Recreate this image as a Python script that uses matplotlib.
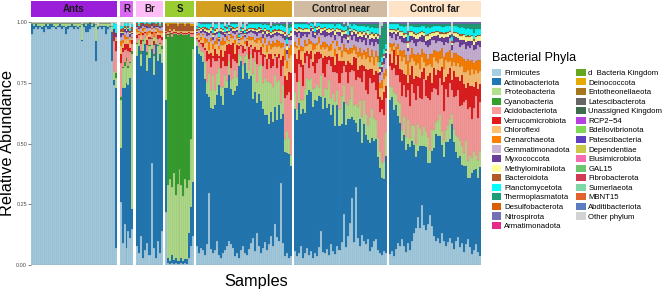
import matplotlib
matplotlib.use("Agg")
import matplotlib.pyplot as plt
from matplotlib.patches import Patch
import numpy as np

plt.rcParams['font.family'] = ['Liberation Sans', 'DejaVu Sans']

phyla = ["Firmicutes", "Actinobacteriota", "Proteobacteria", "Cyanobacteria",
         "Acidobacteriota", "Verrucomicrobiota", "Chloroflexi", "Crenarchaeota",
         "Gemmatimonadota", "Myxococcota", "Methylomirabilota", "Bacteroidota",
         "Planctomycetota", "Thermoplasmatota", "Desulfobacterota", "Nitrospirota",
         "Armatimonadota", "d  Bacteria Kingdom", "Deinococcota", "Entotheonellaeota",
         "Latescibacterota", "Unassigned Kingdom", "RCP2\u221254", "Bdellovibrionota",
         "Patescibacteria", "Dependentiae", "Elusimicrobiota", "GAL15",
         "Fibrobacterota", "Sumerlaeota", "MBNT15", "Abditibacteriota", "Other phylum"]

phyla_colors = ["#A6CEE3", "#1F78B4", "#B2DF8A", "#33A02C", "#FB9A99", "#E31A1C",
                "#FDBF6F", "#FF7F00", "#CAB2D6", "#6A3D9A", "#FFFF99", "#B15928",
                "#00FFFF", "#1B9E77", "#D95F02", "#7570B3", "#E7298A", "#66A61E",
                "#E6AB02", "#A6761D", "#666666", "#3F6B4F", "#B542E0", "#7ED957",
                "#5D3FBF", "#C9C947", "#F76BB0", "#6CC76C", "#D03A52", "#7FD6A6",
                "#E0622E", "#5A7DC2", "#D3D3D3"]

groups = ["Ants", "R", "Br", "S", "Nest soil", "Control near", "Control far"]
strip_colors = ["#9B1ED8", "#DB68F2", "#FFBDF8", "#9ACD32", "#D4A020", "#D1BBA3", "#FFE3C6"]

# ---------------- values (percent of reads per sample) ----------------
ants = {
    "Firmicutes": [95, 97, 98, 97, 98, 97, 96, 98, 97, 97, 98, 98, 97, 98, 98, 97, 98, 95, 97, 98,
                   98, 97, 98, 97, 98, 92, 98, 96, 96, 97, 98, 98, 84, 97, 98, 97, 98, 95, 97, 98,
                   84, 74, 7],
    "Actinobacteriota": [4, 1.5, 1, 1.5, 0.5, 1, 2.5, 1, 1.5, 2, 1, 0.5, 1, 0.5, 1, 1.5, 0.5, 3, 1.5, 0.5,
                         1, 1.5, 0.5, 1, 0.5, 0.5, 1, 2.5, 3, 2.5, 0.5, 1, 8, 1, 0.5, 1.5, 0.5, 3.5, 1, 0.5,
                         12, 2, 66],
    "Proteobacteria": [0.5, 1, 0.5, 1, 1, 1.5, 1, 0.5, 1, 0.5, 0.5, 1, 1.5, 1, 0.5, 1, 1, 1.5, 1, 1,
                       0.5, 1, 1, 1.5, 1, 6.5, 0.5, 1, 0.5, 0.5, 1, 0.5, 7, 0.5, 1, 1, 1, 1, 1.5, 1,
                       2.5, 4, 4],
    "Cyanobacteria": [0] * 42 + [2],
    "Acidobacteriota": [0] * 41 + [12, 9],
    "Verrucomicrobiota": [0] * 41 + [4, 4],
    "Chloroflexi": [0] * 42 + [1],
    "Gemmatimonadota": [0] * 42 + [1],
    "Myxococcota": [0] * 41 + [1, 1.5],
    "Planctomycetota": [0] * 41 + [2.5, 3.5],
}

r_grp = {
    "Firmicutes": [26, 9, 17, 7, 14, 11, 15],
    "Actinobacteriota": [22, 64, 56, 68, 60, 66, 8],
    "Proteobacteria": [20, 8, 9, 9, 7, 6, 64],
    "Cyanobacteria": [1, 0.5, 1.5, 1, 1, 0.5, 1],
    "Acidobacteriota": [14, 6, 5, 4, 6, 4, 3],
    "Verrucomicrobiota": [4, 2, 2.5, 2, 3, 2, 1.5],
    "Chloroflexi": [3, 2, 2, 2, 2, 2, 1],
    "Crenarchaeota": [2, 1, 1.5, 1, 1, 1, 0.5],
    "Gemmatimonadota": [2, 2, 1.5, 1.5, 2, 1.5, 1],
    "Myxococcota": [1.5, 1, 1, 1, 1, 1, 0.5],
    "Methylomirabilota": [0.5, 0.5, 0.5, 0.5, 0.5, 0.5, 0.5],
    "Bacteroidota": [1, 1.5, 1, 0.5, 1, 1, 2],
    "Planctomycetota": [1.5, 1, 1, 1, 1, 1, 1],
}

br_grp = {
    "Firmicutes": [8, 5, 12, 3, 6, 9, 4, 42, 7, 3, 10, 5, 14],
    "Actinobacteriota": [78, 85, 70, 85, 85, 71, 81, 47, 71, 88, 74, 82, 69],
    "Proteobacteria": [5, 3, 5, 4, 3, 6.5, 5, 4, 8, 3, 6, 4, 6],
    "Cyanobacteria": [0.5, 0, 1, 0.5, 0, 1, 0.5, 0.5, 1, 0, 0.5, 0.5, 1],
    "Acidobacteriota": [2, 1.5, 3, 2, 1.5, 3, 2.5, 1.5, 3.5, 1.5, 2.5, 2, 2.5],
    "Verrucomicrobiota": [1, 0.5, 1.5, 1, 0.5, 2, 1, 1, 1.5, 0.5, 1.5, 1, 1.5],
    "Chloroflexi": [1.5, 1, 2, 1, 1, 2, 1.5, 1, 2, 1, 1.5, 1, 1.5],
    "Crenarchaeota": [1, 0.5, 1.5, 1, 0.5, 1.5, 1, 0.5, 2, 0.5, 1, 1, 1],
    "Gemmatimonadota": [1, 0.5, 1.5, 1, 0.5, 1.5, 1, 1, 1.5, 0.5, 1, 1, 1.5],
    "Myxococcota": [0.5, 0.5, 1, 0.5, 0.5, 1, 0.5, 0.5, 1, 0.5, 0.5, 0.5, 0.5],
    "Bacteroidota": [1, 1, 1, 0.5, 0.5, 1, 1, 0.5, 1, 0.5, 1, 0.5, 1],
    "Planctomycetota": [0.5, 0.5, 0.5, 0.5, 0.5, 0.5, 0.5, 0.5, 0.5, 0.5, 0.5, 0.5, 0.5],
}

s_grp = {
    "Firmicutes": [22, 1, 0.5, 1, 0.5, 1, 0.5, 0.5, 1, 0.5, 1, 0.5, 3, 8, 12],
    "Actinobacteriota": [46, 2, 1, 3, 1.5, 2, 1, 1, 2, 1, 1.5, 2, 10, 16, 22],
    "Proteobacteria": [25, 30, 34, 28, 36, 26, 32, 38, 30, 27, 33, 29, 22, 28, 55],
    "Cyanobacteria": [2, 61, 60, 62, 57, 66, 61, 55, 62, 66, 59, 63, 60, 42, 5],
    "Acidobacteriota": [0.5, 0.5, 0.5, 1, 0.5, 0.5, 0.5, 0.5, 0.5, 0.5, 0.5, 0.5, 0.5, 1, 1],
    "Verrucomicrobiota": [0.5, 0.5, 0.5, 0.5, 0.5, 0.5, 0.5, 0.5, 0.5, 0.5, 0.5, 0.5, 0.5, 0.5, 0.5],
    "Chloroflexi": [0.5, 1, 0.5, 1, 1, 0.5, 1, 1, 0.5, 1, 1, 1, 0.5, 1, 1],
    "Bacteroidota": [2.5, 2.5, 2, 2.5, 2, 2.5, 2, 2.5, 2.5, 2.5, 2, 2.5, 2.5, 2, 2],
    "Deinococcota": [0.5, 1, 0.5, 0.5, 0.5, 0.5, 0.5, 0.5, 0.5, 0.5, 0.5, 0.5, 0.5, 0.5, 0.5],
}

nest = {
    "Firmicutes": [8, 5, 7, 6, 4, 9, 30, 7, 5, 6, 10, 4, 3, 5, 6, 8, 10, 9, 7, 4, 5, 3, 6, 8,
                   5, 4, 7, 9, 12, 6, 14, 8, 5, 7, 10, 6, 9, 12, 8, 17, 12, 10, 36, 9, 4, 5, 3, 4],
    "Actinobacteriota": [82, 83, 79, 78, 74, 63, 40, 61, 59, 60, 60, 70, 69, 64, 67, 67, 68, 67, 65, 70,
                         72, 79, 78, 72, 78, 75, 74, 69, 62, 66, 56, 65, 63, 59, 54, 56, 51, 51, 53, 48,
                         50, 56, 28, 53, 46, 41, 45, 40],
    "Proteobacteria": [2, 3, 2, 4, 7, 5, 10, 8, 14, 6, 9, 7, 4, 8, 5, 3, 6, 4, 7, 9, 4, 5, 2, 6,
                       3, 8, 4, 9, 11, 13, 9, 12, 15, 11, 16, 14, 18, 12, 15, 13, 16, 10, 7, 12, 6, 9, 7, 5],
    "Acidobacteriota": [1, 2, 3, 2, 5, 9, 6, 10, 7, 12, 5, 4, 8, 11, 4, 6, 3, 5, 8, 4, 6, 2, 4, 5,
                        2, 3, 5, 3, 7, 4, 8, 6, 4, 7, 9, 5, 10, 6, 9, 8, 6, 9, 12, 8, 18, 15, 20, 24],
    "Verrucomicrobiota": [0.5, 1, 0.5, 2, 1, 4, 2, 6, 1, 5, 3, 1, 8, 2, 6, 9, 4, 10, 7, 3, 8, 1, 0.5, 3,
                          1, 2, 5, 1, 4, 2, 6, 1, 3, 5, 1, 4, 2, 6, 3, 1, 5, 2, 7, 4, 10, 6, 9, 12],
    "Chloroflexi": [1, 2, 1, 3, 2, 4, 2, 5, 3, 2, 4, 3, 2, 5, 3, 2, 1, 3, 2, 4, 3, 1, 2, 3,
                    2, 1, 3, 2, 4, 2, 3, 4, 2, 3, 5, 3, 4, 2, 5, 3, 4, 3, 5, 4, 7, 5, 6, 8],
    "Crenarchaeota": [0.5, 1, 1.5, 0.5, 2, 1, 3, 1.5, 2, 1, 2.5, 1, 1.5, 3, 1, 2, 0.5, 1.5, 1, 2, 1, 0.5, 1, 1.5,
                      1, 0.5, 2, 1, 1.5, 1, 2, 1, 2.5, 1.5, 2, 3, 1.5, 2, 2.5, 1.5, 3, 2, 2.5, 1.5, 5, 3, 4, 4.5],
    "Gemmatimonadota": [0.5, 1, 1.5, 1, 2, 1.5, 3, 2, 1.5, 2.5, 1.5, 2, 3, 1.5, 2, 1, 2, 1.5, 1, 2.5, 1.5, 1, 1.5, 1,
                        2, 1.5, 1, 2, 1.5, 2.5, 1, 2, 1.5, 2.5, 2, 3, 2, 2.5, 1.5, 3, 2, 2.5, 3, 2, 4, 3, 3.5, 2.5],
    "Myxococcota": [0.5, 0.5, 1, 1, 1, 1.5, 1, 1, 1.5, 1, 1, 1, 1.5, 1, 1, 1, 0.5, 1, 1, 1, 1, 0.5, 0.5, 1,
                    0.5, 1, 1, 1, 1, 1, 1.5, 1, 1, 1.5, 1, 1.5, 1.5, 1, 1.5, 1, 1.5, 1, 1, 1.5, 1.5, 1.5, 1.5, 1.5],
    "Methylomirabilota": [0.5, 0.5, 0.5, 0.5, 1, 1, 1, 1, 0.5, 1, 1, 0.5, 1, 1, 0.5, 1, 1, 0.5, 1, 1, 0.5, 0.5, 0.5, 1,
                          0.5, 0.5, 1, 0.5, 1, 0.5, 1, 1, 0.5, 1, 1, 1, 0.5, 1, 1, 1, 0.5, 1, 1, 1, 1, 1.5, 1, 1.5],
    "Bacteroidota": [0.5, 0.3, 0.5, 0.5, 0.5, 0.8, 0.5, 0.5, 0.8, 0.5, 0.5, 0.5, 0.3, 0.5, 0.5, 0.5, 0.3, 0.5, 0.5, 0.5,
                     0.5, 0.3, 0.3, 0.5, 0.3, 0.5, 0.5, 0.5, 0.5, 0.8, 0.5, 0.5, 0.5, 0.8, 0.5, 0.5, 0.8, 0.5, 0.5, 0.5,
                     0.5, 0.5, 0.8, 0.5, 0.8, 0.8, 0.5, 0.8],
    "Planctomycetota": [1, 1.5, 1.5, 1, 1.5, 1.5, 2, 1.5, 1.5, 2, 1.5, 1.5, 1.5, 2, 1.5, 1.5, 1.5, 1, 1.5, 1.5, 1.5, 1, 1, 1.5,
                        1, 1.5, 1.5, 1.5, 1.5, 1.5, 2, 1.5, 1.5, 2, 1.5, 2, 2, 1.5, 2, 1.5, 2, 1.5, 2, 2, 2.5, 2, 2.5, 2],
    "Thermoplasmatota": [0, 0.3, 0.3, 0.5, 0.3, 0.5, 0.5, 0.3, 0.5, 0.5, 0.3, 0.3, 0.5, 0.5, 0.3, 0.3, 0.5, 0.3, 0.3, 0.5,
                         0.3, 0.3, 0.3, 0.5, 0.3, 0.3, 0.5, 0.3, 0.5, 0.5, 0.5, 0.3, 0.5, 0.5, 0.5, 0.5, 0.5, 0.5, 0.8, 0.5,
                         0.5, 0.5, 0.5, 0.8, 1, 1, 1.5, 1],
    "Nitrospirota": [0.3, 0.3, 0.5, 0.5, 0.5, 0.5, 0.5, 0.5, 0.8, 0.5, 0.5, 0.5, 0.5, 0.5, 0.5, 0.5, 0.5, 0.5, 0.5, 0.5,
                     0.5, 0.3, 0.3, 0.5, 0.3, 0.5, 0.5, 0.5, 0.5, 0.5, 0.5, 0.5, 0.5, 0.8, 0.5, 0.8, 0.8, 0.5, 0.8, 0.5,
                     0.8, 0.5, 0.8, 0.8, 1, 1, 1, 1],
}

near = {
    "Firmicutes": [6, 4, 5, 8, 3, 5, 7, 4, 6, 3, 5, 4, 8, 14, 6, 5, 7, 4, 9, 6, 5, 8, 7,
                   10, 21, 8, 12, 19, 28, 10, 36, 12, 8, 14, 10, 9, 12, 6, 8, 10, 11, 7, 5, 4, 6, 5],
    "Actinobacteriota": [60, 60, 63, 57, 64, 58, 63, 68, 67, 67, 63, 67, 65, 55, 64, 67, 61, 63, 56, 62, 57, 58, 57,
                         51, 46, 55, 48, 47, 34, 54, 29, 46, 52, 42, 49, 46, 45, 47, 47, 42, 43, 43, 35, 32, 32, 40],
    "Proteobacteria": [7, 5, 9, 6, 4, 10, 7, 4, 6, 8, 5, 7, 4, 9, 6, 4, 8, 10, 7, 5, 11, 6, 8,
                       12, 7, 10, 6, 9, 13, 7, 9, 11, 8, 12, 10, 9, 7, 11, 13, 10, 8, 9, 7, 6, 8, 10],
    "Acidobacteriota": [8, 12, 7, 14, 6, 11, 9, 5, 8, 10, 6, 9, 12, 7, 10, 5, 11, 8, 14, 9, 13, 7, 12,
                        10, 8, 14, 9, 12, 7, 15, 11, 13, 9, 16, 12, 10, 14, 17, 11, 15, 13, 18, 16, 22, 20, 14],
    "Verrucomicrobiota": [8, 10, 6, 3, 9, 4, 2, 6, 3, 2, 8, 5, 3, 2, 7, 9, 3, 2, 4, 6, 3, 8, 10,
                          5, 2, 3, 9, 4, 2, 6, 10, 3, 5, 8, 2, 9, 11, 4, 6, 3, 8, 12, 6, 4, 10, 5],
    "Chloroflexi": [3, 5, 2, 4, 6, 3, 2, 4, 3, 5, 2, 3, 4, 2, 5, 3, 4, 2, 3, 6, 4, 3, 5,
                    2, 4, 6, 3, 4, 5, 3, 2, 6, 4, 3, 5, 4, 6, 3, 5, 4, 6, 5, 4, 5, 6, 4],
    "Crenarchaeota": [2, 1, 3, 2, 1.5, 2.5, 1, 2, 1.5, 3, 2, 1, 2.5, 1.5, 2, 3, 1.5, 2, 2.5, 1, 3, 2, 1.5,
                      2.5, 3, 2, 1.5, 3, 2, 2.5, 3, 2, 3.5, 2.5, 2, 3, 4, 2.5, 3, 3.5, 2.5, 3, 2, 3, 2.5, 3],
    "Gemmatimonadota": [3, 4, 2, 3.5, 5, 2.5, 3, 2, 4, 3, 2.5, 3.5, 2, 4, 3, 2, 3.5, 4.5, 3, 2.5, 4, 3, 5,
                        3.5, 2.5, 4, 3, 5, 3.5, 4, 3, 4.5, 3.5, 5, 4, 3, 4.5, 5, 3.5, 4.5, 4, 5.5, 3, 3.5, 4, 4.5],
    "Myxococcota": [1.5, 2, 1, 2.5, 1.5, 1, 2, 1, 1.5, 2.5, 1, 2, 1.5, 1, 2, 3, 1.5, 1, 2, 1.5, 2.5, 1, 2,
                    3, 1.5, 2, 1, 2.5, 2, 1.5, 3, 2, 1.5, 2.5, 2, 3, 1.5, 2.5, 2, 3, 2, 2.5, 1.5, 2, 2.5, 2],
    "Methylomirabilota": [1, 1, 1, 1.5, 1, 1, 1, 1, 0.5, 1, 1, 1, 1, 1.5, 1, 1, 1, 1.5, 1, 1, 1.5, 1, 1,
                          1.5, 1, 1.5, 1.5, 1, 1.5, 1, 1.5, 1.5, 1.5, 1.5, 1.5, 1.5, 1.5, 1.5, 1.5, 1.5, 1.5, 1.5, 1, 1, 1, 1],
    "Bacteroidota": [0.5, 0.5, 0.5, 0.5, 0.3, 0.5, 0.5, 0.3, 0.3, 0.5, 0.5, 0.3, 0.5, 0.5, 0.5, 0.3, 0.5, 0.5, 0.5, 0.5,
                     0.5, 0.5, 0.5, 0.8, 0.5, 0.5, 0.8, 0.5, 0.5, 0.5, 0.5, 0.8, 0.5, 0.8, 0.5, 0.8, 0.5, 0.8, 0.8, 0.8,
                     0.5, 0.8, 1, 1, 1, 0.8],
    "Planctomycetota": [1.5, 2, 1.5, 1.5, 2, 1.5, 1.5, 1.5, 1, 1.5, 1.5, 1.5, 1, 1.5, 1.5, 1.5, 2, 1.5, 2, 1.5, 2, 1.5, 2,
                        2, 1.5, 2, 2, 1.5, 2, 2, 2, 2.5, 2, 2.5, 2, 2.5, 2, 2.5, 2.5, 2.5, 2, 2.5, 2, 2, 2, 2],
    "Thermoplasmatota": [0.5, 0.5, 0.3, 0.5, 0.5, 0.5, 0.3, 0.3, 0.3, 0.5, 0.5, 0.3, 0.3, 0.5, 0.5, 0.3, 0.5, 0.5, 0.5, 0.5,
                         0.8, 0.5, 0.5, 0.8, 0.5, 0.8, 0.8, 0.5, 0.8, 0.5, 0.8, 1, 0.8, 1, 0.8, 1, 1, 1.5, 1, 1.5,
                         1.5, 2, 10, 12, 11, 8],
    "Nitrospirota": [0.5, 0.5, 0.5, 0.5, 0.5, 0.5, 0.5, 0.3, 0.3, 0.5, 0.5, 0.3, 0.3, 0.5, 0.5, 0.5, 0.5, 0.5, 0.5, 0.5,
                     0.8, 0.5, 0.5, 0.8, 0.5, 0.8, 0.8, 0.5, 0.8, 0.5, 0.8, 0.8, 0.8, 1, 0.8, 1, 0.8, 1, 1, 1,
                     1, 1, 1, 1, 1, 1],
}

far = {
    "Firmicutes": [5, 6, 4, 7, 10, 9, 12, 8, 6, 9, 7, 11, 14, 17, 20, 16, 28, 18, 15, 19, 22, 17, 13,
                   10, 12, 9, 14, 11, 8, 10, 12, 9, 7, 11, 13, 8, 10, 6, 9, 12, 8, 5, 7, 9, 6, 4],
    "Actinobacteriota": [67, 64, 67, 61, 59, 57, 46, 47, 46, 41, 47, 46, 39, 33, 28, 36, 28, 36, 36, 28, 23, 33, 40,
                         45, 45, 45, 38, 38, 43, 43, 44, 49, 48, 41, 37, 40, 36, 38, 33, 28, 30, 37, 38, 32, 33, 40],
    "Proteobacteria": [6, 4, 8, 5, 7, 9, 5, 8, 6, 10, 4, 7, 9, 6, 11, 8, 5, 9, 7, 12, 6, 10, 8,
                       5, 7, 9, 6, 8, 5, 7, 9, 4, 6, 8, 10, 7, 9, 6, 11, 8, 10, 7, 9, 6, 8, 7],
    "Acidobacteriota": [9, 7, 11, 8, 12, 10, 16, 13, 18, 12, 15, 19, 14, 20, 16, 13, 17, 21, 15, 18, 22, 16, 19,
                        14, 11, 15, 20, 13, 17, 12, 16, 10, 14, 18, 22, 15, 19, 23, 17, 24, 21, 18, 20, 25, 19, 22],
    "Verrucomicrobiota": [5, 3, 8, 4, 9, 6, 12, 5, 10, 3, 14, 8, 6, 11, 4, 9, 13, 5, 7, 10, 12, 4, 9,
                          6, 11, 3, 8, 13, 5, 10, 7, 4, 12, 9, 6, 11, 14, 8, 5, 12, 9, 15, 10, 6, 13, 8],
    "Chloroflexi": [3, 5, 2, 4, 3, 6, 4, 7, 5, 3, 6, 4, 8, 5, 6, 4, 7, 3, 6, 5, 4, 7, 5,
                    6, 3, 5, 4, 6, 7, 5, 3, 6, 4, 5, 7, 6, 4, 5, 7, 6, 5, 8, 6, 5, 7, 6],
    "Crenarchaeota": [2, 3, 1.5, 4, 2.5, 3, 5, 3, 4, 6, 3, 4.5, 3, 5, 4, 6, 3.5, 4, 5, 3, 4.5, 6, 3,
                      4, 5, 3.5, 4, 5.5, 3, 4.5, 5, 3, 4, 6, 3.5, 5, 4, 6, 4.5, 5, 6, 4, 5.5, 4, 6, 5],
    "Gemmatimonadota": [3, 2.5, 4, 3, 3.5, 5, 4, 3, 5.5, 4, 6, 3.5, 5, 4, 4.5, 6, 3.5, 5, 4, 5.5, 4, 6, 4.5,
                        3.5, 5, 4, 3, 5.5, 4.5, 4, 5, 3.5, 4.5, 5, 6, 4, 5.5, 6.5, 5, 6, 5.5, 7, 6, 5, 6.5, 6],
    "Myxococcota": [1.5, 2, 1, 2.5, 2, 1.5, 3, 2, 2.5, 1.5, 3, 2, 2.5, 3, 1.5, 2, 3, 2.5, 2, 3, 2.5, 1.5, 2,
                    3, 2.5, 1.5, 2, 3, 2, 2.5, 1.5, 2, 3, 2.5, 2, 3, 2.5, 2, 3, 2.5, 3, 2, 2.5, 3, 2, 2.5],
    "Methylomirabilota": [1, 1, 1, 1, 1, 1.5, 1.5, 1.5, 1.5, 2, 1.5, 1.5, 1.5, 2, 2, 1.5, 1.5, 1.5, 2, 2, 2, 1.5, 1.5,
                          1.5, 1.5, 1.5, 1.5, 2, 1.5, 1.5, 1.5, 1, 1.5, 1.5, 2, 2, 2, 2, 2, 2, 2, 2, 2, 2, 2, 2],
    "Bacteroidota": [0.5, 0.5, 0.5, 0.5, 0.5, 0.5, 0.5, 0.8, 0.5, 0.5, 0.5, 0.5, 0.8, 0.5, 0.5, 0.5, 0.5, 0.5, 0.5, 0.8,
                     0.5, 0.5, 0.5, 0.5, 0.5, 0.8, 0.5, 0.5, 0.5, 0.5, 0.5, 0.5, 0.5, 0.8, 0.5, 0.5, 0.8, 0.5, 0.5, 0.8,
                     0.5, 0.5, 0.8, 0.5, 0.5, 0.5],
    "Planctomycetota": [2, 2, 2, 2.5, 2, 2.5, 2.5, 2.5, 3, 2.5, 2.5, 2.5, 2.5, 3, 2.5, 2.5, 2.5, 2.5, 3, 3, 2.5, 2.5, 2.5,
                        2, 2, 2.5, 2.5, 2.5, 2.5, 2.5, 2, 2, 2.5, 2.5, 2.5, 3, 3, 3, 3, 3, 3, 3, 3, 3, 3, 3],
    "Thermoplasmatota": [0.5, 0.5, 0.5, 0.5, 0.5, 1, 1, 1, 1, 1, 1, 1, 1, 1.5, 1, 1, 1, 1, 1.5, 1.5, 1.5, 1, 1,
                         1, 1, 1, 1, 1.5, 1, 1, 1, 0.5, 1, 1, 1.5, 1.5, 1.5, 1.5, 2, 2, 2, 2, 4, 2, 2, 2],
    "Nitrospirota": [0.5, 0.5, 0.5, 0.5, 0.5, 0.8, 0.8, 1, 1, 1, 0.8, 0.8, 1, 1, 1, 1, 0.8, 1, 1, 1, 1, 1, 0.8,
                     0.8, 0.8, 0.8, 1, 1, 0.8, 0.8, 0.8, 0.5, 0.8, 1, 1, 1, 1, 1, 1, 1, 1, 1, 1, 1, 1, 1],
}

group_data = [ants, r_grp, br_grp, s_grp, nest, near, far]

# panel placement (pixels) measured on the reference
W, H = 669, 291
panel_px = [(31, 117), (120, 133), (136, 163), (165, 194), (196, 292), (294, 387), (389, 481)]
top_px, bot_px = 22, 265
strip_top, strip_bot = 1, 17

fig = plt.figure(figsize=(W / 100, H / 100), dpi=100)
fig.patch.set_facecolor("white")

for gi, (grp, data, (x0, x1), scol) in enumerate(zip(groups, group_data, panel_px, strip_colors)):
    n = len(data["Firmicutes"])
    mat = np.zeros((len(phyla), n))
    for name, vals in data.items():
        mat[phyla.index(name)] = np.asarray(vals, dtype=float)
    tot = mat.sum(axis=0)
    mat[-1] += np.clip(100 - tot, 0, None)
    mat = mat / mat.sum(axis=0)

    ax = fig.add_axes([x0 / W, 1 - bot_px / H, (x1 - x0) / W, (bot_px - top_px) / H])
    xs = np.arange(n)
    bottom = np.zeros(n)
    for pi in range(len(phyla)):
        v = mat[pi]
        if v.sum() <= 0:
            continue
        ax.bar(xs, v, bottom=bottom, width=1.0, color=phyla_colors[pi],
               edgecolor=(0.3, 0.3, 0.3, 0.3), linewidth=0.25)
        bottom += v
    ax.set_xlim(-0.5, n - 0.5)
    ax.set_ylim(0, 1)
    for sp in ax.spines.values():
        sp.set_visible(False)
    ax.set_xticks([])
    if gi == 0:
        ax.set_yticks([0, 0.25, 0.5, 0.75, 1.0])
        ax.set_yticklabels(["0.00", "0.25", "0.50", "0.75", "1.00"])
        ax.tick_params(axis="y", labelsize=4, colors="#4D4D4D", length=2, width=0.5, pad=0.8)
    else:
        ax.set_yticks([])

    sax = fig.add_axes([x0 / W, 1 - strip_bot / H, (x1 - x0) / W, (strip_bot - strip_top) / H])
    sax.set_facecolor(scol)
    sax.set_xticks([])
    sax.set_yticks([])
    for sp in sax.spines.values():
        sp.set_visible(False)
    sax.text(0.5, 0.47, grp, ha="center", va="center", fontsize=7, fontweight="bold",
             color="#1A1A1A", transform=sax.transAxes)

fig.text(8 / W, 1 - 143.5 / H, "Relative Abundance", rotation=90, ha="center", va="center", fontsize=11.8)
fig.text(256 / W, 1 - 281.5 / H, "Samples", ha="center", va="center", fontsize=11.8)

fig.text(491.5 / W, 1 - 57.5 / H, "Bacterial Phyla", ha="left", va="center", fontsize=9)
handles = [Patch(facecolor=c, edgecolor="none") for c in phyla_colors]
leg = fig.legend(handles, phyla, ncol=2, loc="upper left",
                 bbox_to_anchor=(491.5 / W, 1 - 68.8 / H), frameon=False,
                 fontsize=5.6, handlelength=1.28, handleheight=1.03, handletextpad=0.33,
                 columnspacing=0.65, labelspacing=0.175, borderpad=0, borderaxespad=0)

fig.savefig("out.png", dpi=100, facecolor="white")
